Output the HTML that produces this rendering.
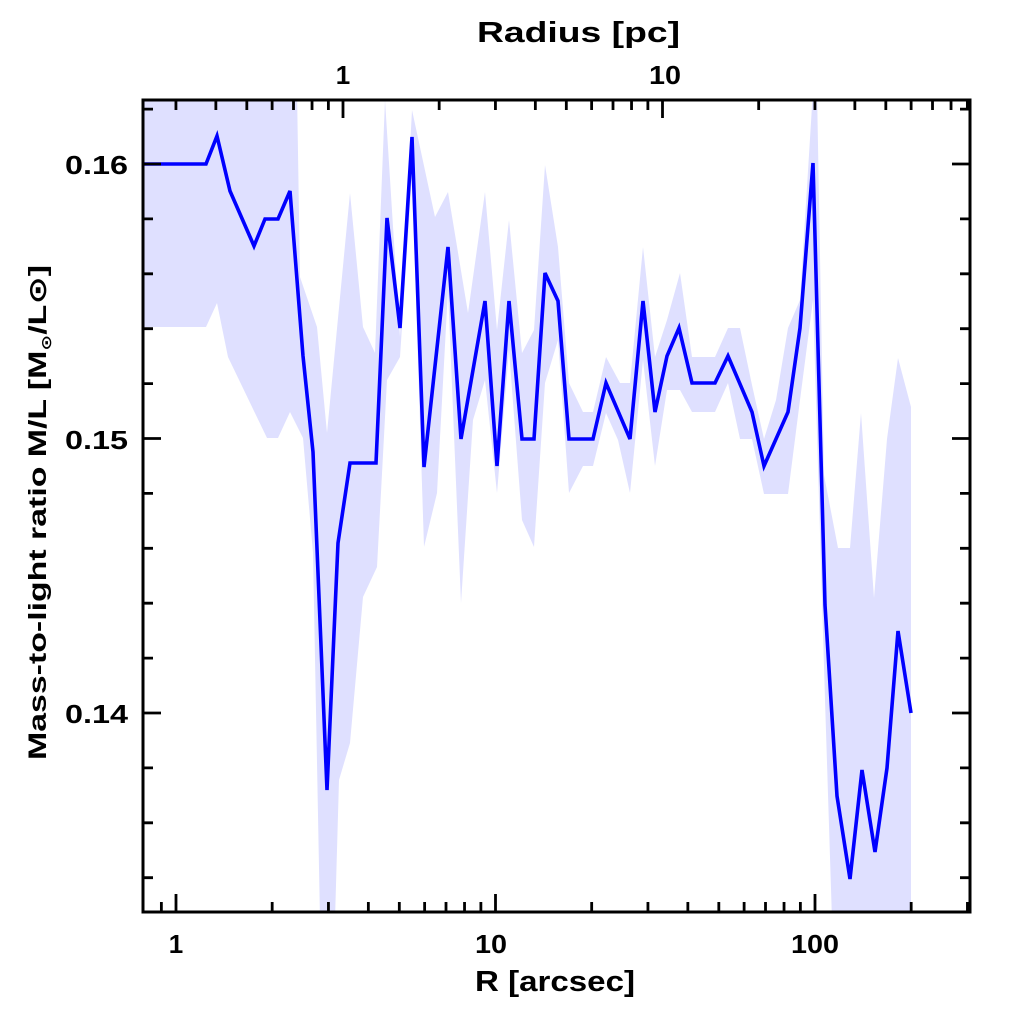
<!DOCTYPE html>
<html><head><meta charset="utf-8"><style>
html,body{margin:0;padding:0;background:#fff;width:1024px;height:1024px;overflow:hidden}
text{font-family:"Liberation Sans","DejaVu Sans",sans-serif;font-weight:bold;fill:#000}
</style></head><body>
<svg id="s" width="1024" height="1024" viewBox="0 0 1024 1024" xmlns="http://www.w3.org/2000/svg">
<defs><clipPath id="c"><rect x="143" y="100" width="827" height="812"/></clipPath></defs>
<g clip-path="url(#c)">
<polygon fill="#dfe0ff" points="
143,90 297,90 300,277 317,327 327,433 350,193 363,327 375,353 385,100 400,337 412,110 435,217 448,192 468,313 485,192 497,330 509,220 522,353 534,330 545,165 558,247 569,383 583,412 593,412 606,357 620,383 630,383 643,247 655,357 667,320 680,273 692,357 715,357 728,328 740,328 752,385 764,439 776,400 788,328 800,300 813,90 817,90 824,475 838,548 850,548 861,413 874,598 887,439 898,358 911,407
911,920 832,920 825,700 813,300 800,400 788,494 764,494 752,439 740,439 728,383 715,412 692,412 680,390 667,390 655,466 643,360 630,493 618,440 606,413 593,466 583,466 569,493 558,340 545,383 534,547 522,520 509,350 497,493 485,380 473,420 461,603 448,290 437,493 424,547 412,175 400,357 387,380 377,567 363,597 350,743 339,780 335,920 320,920 313,553 303,438 290,412 278,438 267,438 228,357 217,303 206,327 143,327"/>
<polyline fill="none" stroke="#0000ff" stroke-width="3.6" stroke-linejoin="miter" points="
143,164 206,164 217,136 230,191 254,246 265,219 278,219 290,191 303,356 313,452 327,790 338,543 350,463 376,463 387,218 400,328 412,137 424,467 448,247 461,439 485,301 497,466 509,301 522,439 534,439 545,273 558,301 569,439 593,439 606,383 630,439 643,301 655,412 667,356 679,328 692,383 715,383 728,356 752,412 764,466 788,412 800,328 813,163 825,605 837,796 850,879 862,770 875,852 887,768 898,631 911,713"/>
</g>
<g id="ax" stroke="#000" stroke-width="2.8" fill="none"></g>
<rect x="143" y="100" width="827" height="812" fill="none" stroke="#000" stroke-width="3"/>
<g font-size="26">
<text x="65" y="174" textLength="63" lengthAdjust="spacingAndGlyphs">0.16</text>
<text x="65" y="449" textLength="63" lengthAdjust="spacingAndGlyphs">0.15</text>
<text x="65" y="723" textLength="63" lengthAdjust="spacingAndGlyphs">0.14</text>
<text x="176" y="953" text-anchor="middle">1</text>
<text x="491" y="953" text-anchor="middle" textLength="32" lengthAdjust="spacingAndGlyphs">10</text>
<text x="815" y="953" text-anchor="middle" textLength="48" lengthAdjust="spacingAndGlyphs">100</text>
<text x="343" y="84" text-anchor="middle">1</text>
<text x="665" y="84" text-anchor="middle" textLength="32" lengthAdjust="spacingAndGlyphs">10</text>
</g>
<text x="475" y="991" font-size="29" textLength="160" lengthAdjust="spacingAndGlyphs">R [arcsec]</text>
<text x="477" y="42" font-size="29" textLength="203" lengthAdjust="spacingAndGlyphs">Radius [pc]</text>
<text transform="translate(46,760) rotate(-90)" font-size="25" textLength="495" lengthAdjust="spacingAndGlyphs">Mass-to-light ratio M/L [M<tspan font-size="14" dy="5">⊙</tspan><tspan dy="-5">/L⊙]</tspan></text>
</svg>
<script>
var g=document.getElementById('ax'),d='';
function L(x1,y1,x2,y2){d+='M'+x1+' '+y1+'L'+x2+' '+y2;}
var X=function(r){return 176+319.5*Math.log10(r);};
var bt=[0.9,1,2,3,4,5,6,7,8,9,10,20,30,40,50,60,70,80,90,100,200,300];
bt.forEach(function(r){var x=X(r),M=(r==1||r==10||r==100);L(x,912,x,912-(M?18:10));});
var T=function(p){return 343+319.5*Math.log10(p);};
var tt=[0.3,0.4,0.5,0.6,0.7,0.8,0.9,1,2,3,4,5,6,7,8,9,10,20,30,40,50,60,70,80,90];
tt.forEach(function(p){var x=T(p),M=(p==1||p==10);L(x,100,x,100+(M?18:10));});
for(var v=134;v<=162;v+=2){var y=164+(160-v)*27.45,M=(v%10==0);var l=M?18:10;L(143,y,143+l,y);L(970,y,970-l,y);}
var p=document.createElementNS('http://www.w3.org/2000/svg','path');p.setAttribute('d',d);g.appendChild(p);
</script>
</body></html>
